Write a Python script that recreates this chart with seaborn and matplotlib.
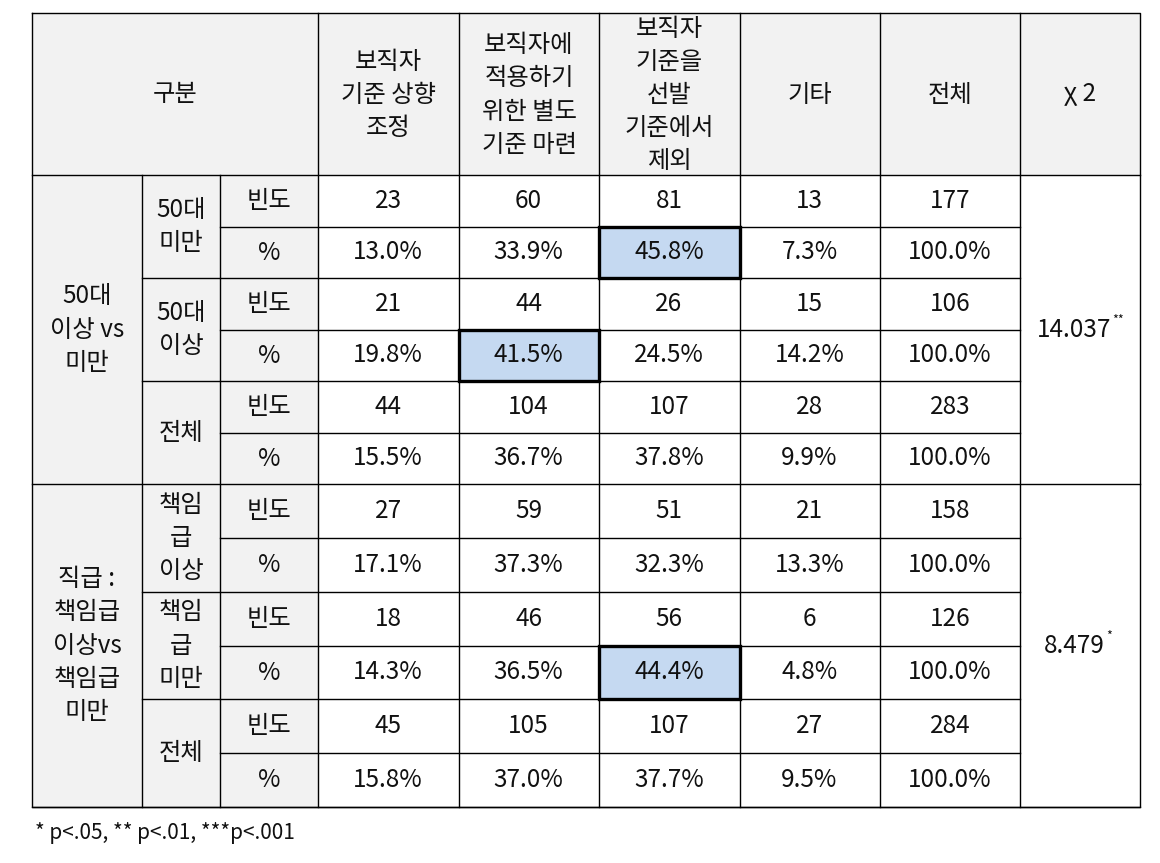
import numpy as np
import matplotlib
matplotlib.use("Agg")
import matplotlib.pyplot as plt
from matplotlib.colors import ListedColormap
from matplotlib.patches import Rectangle
import seaborn as sns

# ======================================
# Data
# ======================================

col_headers = [
    "보직자\n기준 상향\n조정",
    "보직자에\n적용하기\n위한 별도\n기준 마련",
    "보직자\n기준을\n선발\n기준에서\n제외",
    "기타",
    "전체",
]

group_labels = ["50대\n이상 vs\n미만", "직급 :\n책임급\n이상vs\n책임급\n미만"]
sub_labels = [
    ["50대\n미만", "50대\n이상", "전체"],
    ["책임\n급\n이상", "책임\n급\n미만", "전체"],
]
stat_labels = ["빈도", "%"]

# age group: under 50, 50 and over, total
age_freq = [
    [23, 60, 81, 13, 177],
    [21, 44, 26, 15, 106],
    [44, 104, 107, 28, 283],
]
age_pct = [
    [13.0, 33.9, 45.8, 7.3, 100.0],
    [19.8, 41.5, 24.5, 14.2, 100.0],
    [15.5, 36.7, 37.8, 9.9, 100.0],
]

# rank group: above, below, total
rank_freq = [
    [27, 59, 51, 21, 158],
    [18, 46, 56, 6, 126],
    [45, 105, 107, 27, 284],
]
rank_pct = [
    [17.1, 37.3, 32.3, 13.3, 100.0],
    [14.3, 36.5, 44.4, 4.8, 100.0],
    [15.8, 37.0, 37.7, 9.5, 100.0],
]

chi_values = ["14.037", "8.479"]
chi_stars = ["**", "*"]

# (row in block, column) of the highlighted cells
age_highlight = [(1, 2), (3, 1)]
rank_highlight = [(3, 2)]

footnote = "* p<.05, ** p<.01, ***p<.001"

# ======================================
# Layout (pixels)
# ======================================

W, H = 1160, 863
col_edges = [32, 142, 220, 318, 459, 599, 740, 880, 1020, 1140]
row_edges = [13, 175, 227, 278, 330, 381, 433, 484,
             538, 592, 646, 699, 753, 807]

GRAY = "#f2f2f2"
BLUE = "#c5d9f1"
INK = "#111111"
FS = 17.5
LS = 1.36

sns.set_theme(style="white")
plt.rcParams["font.family"] = ["Noto Sans CJK KR", "DejaVu Sans"]


def block_arrays(freq, pct, highlight):
    labels = []
    for f_row, p_row in zip(freq, pct):
        labels.append([str(v) for v in f_row])
        labels.append([f"{v:.1f}%" for v in p_row])
    mask = np.zeros((len(labels), len(labels[0])))
    for r, c in highlight:
        mask[r, c] = 1
    return np.array(labels), mask


fig = plt.figure(figsize=(W / 100, H / 100), dpi=100)

# value blocks drawn with seaborn heatmaps
blocks = [
    block_arrays(age_freq, age_pct, age_highlight),
    block_arrays(rank_freq, rank_pct, rank_highlight),
]
for b, (labels, mask) in enumerate(blocks):
    top = row_edges[1 + b * 6]
    bottom = row_edges[1 + (b + 1) * 6]
    hax = fig.add_axes([
        col_edges[3] / W,
        1 - bottom / H,
        (col_edges[8] - col_edges[3]) / W,
        (bottom - top) / H,
    ])
    sns.heatmap(
        mask,
        ax=hax,
        cmap=ListedColormap(["white", BLUE]),
        vmin=0,
        vmax=1,
        cbar=False,
        annot=labels,
        fmt="",
        annot_kws={"fontsize": FS, "color": INK},
        xticklabels=False,
        yticklabels=False,
        linewidths=0,
    )
    hax.axis("off")

# frame, labels and grid on top
ax = fig.add_axes([0, 0, 1, 1])
ax.set_zorder(5)
ax.patch.set_alpha(0)
ax.set_xlim(0, W)
ax.set_ylim(H, 0)
ax.axis("off")

x0, x3, x8, x9 = col_edges[0], col_edges[3], col_edges[8], col_edges[9]
y0, y1, y_end = row_edges[0], row_edges[1], row_edges[-1]

# gray fills
ax.add_patch(Rectangle((x0, y0), x9 - x0, y1 - y0, fc=GRAY, ec="none"))
ax.add_patch(Rectangle((x0, y1), x3 - x0, y_end - y1, fc=GRAY, ec="none"))
ax.add_patch(Rectangle((x8, y1), x9 - x8, y_end - y1, fc="white", ec="none"))

lw = 1.0
line_kw = dict(color="black", lw=lw, solid_capstyle="projecting")

# outer frame and header line
ax.plot([x0, x9, x9, x0, x0], [y0, y0, y_end, y_end, y0], **line_kw)
ax.plot([x0, x9], [y1, y1], **line_kw)

# vertical lines
for x in col_edges[1:3]:
    ax.plot([x, x], [y1, y_end], **line_kw)
for x in col_edges[3:9]:
    ax.plot([x, x], [y0, y_end], **line_kw)

# horizontal lines inside blocks
for b in range(2):
    base = 1 + b * 6
    for k in range(1, 6):
        y = row_edges[base + k]
        start = col_edges[2] if k % 2 == 1 else col_edges[1]
        ax.plot([start, x8], [y, y], **line_kw)
    ax.plot([x0, x9], [row_edges[base + 6]] * 2, **line_kw)

# highlighted cell borders
for b, hl in enumerate([age_highlight, rank_highlight]):
    for r, c in hl:
        ya = row_edges[1 + b * 6 + r]
        yb = row_edges[2 + b * 6 + r]
        xa = col_edges[3 + c]
        xb = col_edges[4 + c]
        ax.add_patch(Rectangle((xa, ya), xb - xa, yb - ya,
                               fc="none", ec="black", lw=2.4, zorder=6))

text_kw = dict(ha="center", va="center", fontsize=FS, color=INK,
               linespacing=LS)

# header texts
ax.text((x0 + x3) / 2, (y0 + y1) / 2, "구분", **text_kw)
for j, label in enumerate(col_headers):
    ax.text((col_edges[3 + j] + col_edges[4 + j]) / 2, (y0 + y1) / 2 + 1,
            label, **text_kw)
ax.text((x8 + x9) / 2, (y0 + y1) / 2, "χ 2", **text_kw)

# row labels
for b in range(2):
    base = 1 + b * 6
    ax.text((col_edges[0] + col_edges[1]) / 2,
            (row_edges[base] + row_edges[base + 6]) / 2,
            group_labels[b], **text_kw)
    for s in range(3):
        ya = row_edges[base + s * 2]
        yb = row_edges[base + s * 2 + 2]
        ax.text((col_edges[1] + col_edges[2]) / 2, (ya + yb) / 2,
                sub_labels[b][s], **text_kw)
        for k in range(2):
            yc = (row_edges[base + s * 2 + k] + row_edges[base + s * 2 + k + 1]) / 2
            ax.text((col_edges[2] + col_edges[3]) / 2, yc,
                    stat_labels[k], **text_kw)
    chi = ax.text((x8 + x9) / 2 - 6,
                  (row_edges[base] + row_edges[base + 6]) / 2,
                  chi_values[b], **text_kw)
    ax.annotate(chi_stars[b], xy=(1, 1), xycoords=chi,
                xytext=(1, 2), textcoords="offset points",
                ha="left", va="top", fontsize=9, color=INK)

# footnote
ax.text(35, 833, footnote, ha="left", va="center", fontsize=15, color=INK)

fig.savefig("out.png", dpi=100)
plt.close(fig)
